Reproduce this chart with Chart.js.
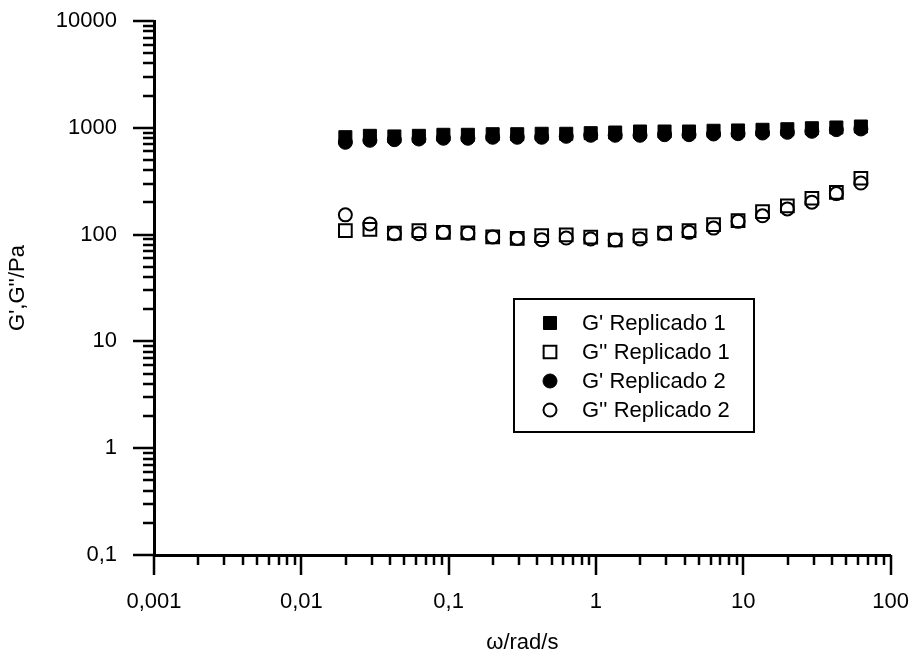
<!DOCTYPE html>
<html>
<head>
<meta charset="utf-8">
<title>G', G'' vs ω</title>
<script src="https://cdn.jsdelivr.net/npm/chart.js@4.4.1/dist/chart.umd.min.js"></script>
<style>
  html, body { margin: 0; padding: 0; background: #fff; }
  #wrap { width: 913px; height: 658px; }
</style>
</head>
<body>
<div id="wrap"><canvas id="modulusChart" width="913" height="658"></canvas></div>
<script>
// Frequency sweep, angular frequency in rad/s
const omega = [0.0199, 0.0292, 0.0428, 0.0628, 0.0921, 0.135, 0.199, 0.292, 0.428, 0.628, 0.921,
               1.35, 1.99, 2.92, 4.28, 6.28, 9.21, 13.5, 19.9, 29.2, 42.8, 62.8];

// Storage and loss moduli (Pa) for the two replicates
const gStorage1 = [817, 841, 830, 841, 860, 860, 871, 871, 879, 879, 891,
                   903, 923, 923, 923, 938, 944, 958, 970, 991, 1007, 1028];
const gLoss1    = [109, 112, 103, 109, 105, 104, 95, 92, 98, 99.5, 94.6,
                   89, 97.5, 103, 109, 124, 135, 164, 186, 219, 248, 337];
const gStorage2 = [731, 764, 774, 785, 798, 798, 815, 815, 815, 832, 851,
                   851, 851, 862, 862, 875, 881, 893, 907, 927, 961, 975];
const gLoss2    = [153, 126, 102, 102, 105, 103, 95, 92, 89.6, 92.9, 91,
                   89, 91, 102, 105, 115, 133, 150, 174, 201, 242, 304];

// Axis decades and their labels (decimal comma)
const xDecades = [0.001, 0.01, 0.1, 1, 10, 100];
const xDecadeLabels = ['0,001', '0,01', '0,1', '1', '10', '100'];
const yDecades = [0.1, 1, 10, 100, 1000, 10000];
const yDecadeLabels = ['0,1', '1', '10', '100', '1000', '10000'];

const FONT = '"Liberation Sans", Arial, sans-serif';

function toPoints(ys) {
  return omega.map((w, i) => ({ x: w, y: ys[i] }));
}

// 1..9 x 10^n between the first and last decade
function logTicks(decades) {
  const vals = [];
  for (let i = 0; i < decades.length; i++) {
    const d = decades[i];
    vals.push(d);
    if (i === decades.length - 1) break;
    for (let m = 2; m <= 9; m++) vals.push(+(d * m).toPrecision(3));
  }
  return vals;
}

function labelFor(value, decades, labels) {
  for (let i = 0; i < decades.length; i++) {
    if (Math.abs(value / decades[i] - 1) < 1e-6) return labels[i];
  }
  return '';
}

function isDecade(value, decades) {
  return decades.some(d => Math.abs(value / d - 1) < 1e-6);
}

// Tick marks outside the plot: long at decades, short in between
const tickMarks = {
  id: 'tickMarks',
  afterDraw(chart) {
    const ctx = chart.ctx;
    const xs = chart.scales.x, ys = chart.scales.y;
    const area = chart.chartArea;
    ctx.save();
    ctx.strokeStyle = '#000';
    ctx.lineWidth = 2.5;
    ctx.beginPath();
    xs.ticks.forEach(t => {
      const px = Math.round(xs.getPixelForValue(t.value));
      const len = isDecade(t.value, xDecades) ? 20 : 10;
      ctx.moveTo(px, area.bottom);
      ctx.lineTo(px, area.bottom + len);
    });
    ys.ticks.forEach(t => {
      const py = Math.round(ys.getPixelForValue(t.value));
      const len = isDecade(t.value, yDecades) ? 21 : 11;
      ctx.moveTo(area.left, py);
      ctx.lineTo(area.left - len, py);
    });
    ctx.stroke();
    ctx.restore();
  }
};

function drawMarker(ctx, style, cx, cy, radius, fill, lineWidth) {
  ctx.beginPath();
  if (style === 'rect') {
    const s = radius * Math.SQRT1_2;
    ctx.rect(cx - s, cy - s, 2 * s, 2 * s);
  } else {
    ctx.arc(cx, cy, radius, 0, Math.PI * 2);
  }
  if (fill !== 'transparent') {
    ctx.fillStyle = fill;
    ctx.fill();
  }
  ctx.lineWidth = lineWidth;
  ctx.strokeStyle = '#000';
  ctx.stroke();
}

// Framed legend sitting inside the plot area
const boxLegend = {
  id: 'boxLegend',
  afterDraw(chart, args, opts) {
    const ctx = chart.ctx;
    ctx.save();
    ctx.fillStyle = '#fff';
    ctx.fillRect(opts.x, opts.y, opts.width, opts.height);
    ctx.lineWidth = 2;
    ctx.strokeStyle = '#000';
    ctx.strokeRect(opts.x, opts.y, opts.width, opts.height);
    chart.data.datasets.forEach((ds, i) => {
      const cy = opts.y + opts.firstRow + i * opts.rowGap;
      drawMarker(ctx, ds.pointStyle, opts.x + opts.markerX, cy, ds.pointRadius, ds.backgroundColor, ds.borderWidth);
      ctx.fillStyle = '#000';
      ctx.font = opts.font;
      ctx.textBaseline = 'middle';
      ctx.textAlign = 'left';
      ctx.fillText(ds.label, opts.x + opts.textX, cy + 1);
    });
    ctx.restore();
  }
};

const datasets = [
  { label: "G' Replicado 1",  data: toPoints(gStorage1), pointStyle: 'rect',   pointRadius: 9.2,
    backgroundColor: '#000', borderColor: '#000', borderWidth: 1 },
  { label: "G'' Replicado 1", data: toPoints(gLoss1),    pointStyle: 'rect',   pointRadius: 9,
    backgroundColor: 'transparent', borderColor: '#000', borderWidth: 2 },
  { label: "G' Replicado 2",  data: toPoints(gStorage2), pointStyle: 'circle', pointRadius: 7,
    backgroundColor: '#000', borderColor: '#000', borderWidth: 1 },
  { label: "G'' Replicado 2", data: toPoints(gLoss2),    pointStyle: 'circle', pointRadius: 6.5,
    backgroundColor: 'transparent', borderColor: '#000', borderWidth: 2 }
];

Chart.defaults.font.family = FONT;
Chart.defaults.color = '#000';

new Chart(document.getElementById('modulusChart'), {
  type: 'scatter',
  data: { datasets: datasets },
  options: {
    responsive: false,
    animation: false,
    layout: { padding: { top: 21, right: 22, left: 0, bottom: 0 } },
    elements: { point: { hoverRadius: 0 } },
    scales: {
      x: {
        type: 'logarithmic',
        min: xDecades[0],
        max: xDecades[xDecades.length - 1],
        afterBuildTicks: s => { s.ticks = logTicks(xDecades).map(v => ({ value: v })); },
        afterFit: s => { s.height = 103; },
        // invisible tick lines only reserve room; the visible marks come from tickMarks
        grid: { drawOnChartArea: false, drawTicks: true, tickLength: 30, tickColor: 'transparent' },
        border: { display: true, color: '#000', width: 3 },
        ticks: {
          autoSkip: false, maxRotation: 0, padding: 4,
          font: { size: 22 },
          callback: v => labelFor(v, xDecades, xDecadeLabels)
        },
        title: { display: true, text: 'ω/rad/s', font: { size: 22 }, padding: { top: 0, bottom: 2 } }
      },
      y: {
        type: 'logarithmic',
        min: yDecades[0],
        max: yDecades[yDecades.length - 1],
        afterBuildTicks: s => { s.ticks = logTicks(yDecades).map(v => ({ value: v })); },
        afterFit: s => { s.width = 154; },
        grid: { drawOnChartArea: false, drawTicks: true, tickLength: 33, tickColor: 'transparent' },
        border: { display: true, color: '#000', width: 3 },
        ticks: {
          autoSkip: false, padding: 4,
          font: { size: 22 },
          callback: v => labelFor(v, yDecades, yDecadeLabels)
        },
        title: { display: true, text: "G',G''/Pa", font: { size: 22 }, padding: { top: 5, bottom: 0 } }
      }
    },
    plugins: {
      legend: { display: false },
      tooltip: { enabled: false },
      boxLegend: {
        x: 514, y: 299, width: 240, height: 133,
        markerX: 36, textX: 68, firstRow: 24, rowGap: 29,
        font: '22px ' + FONT
      }
    }
  },
  plugins: [tickMarks, boxLegend]
});
</script>
</body>
</html>
